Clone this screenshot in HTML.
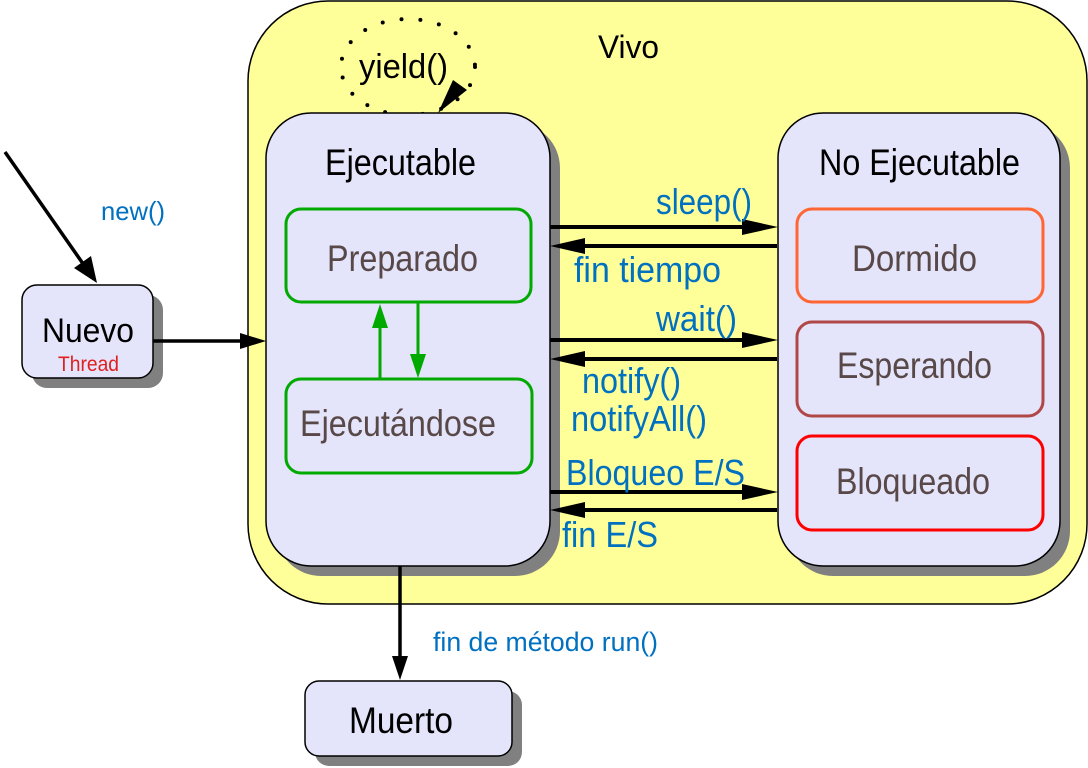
<!DOCTYPE html>
<html><head><meta charset="utf-8"><style>
html,body{margin:0;padding:0;background:#fff;width:1088px;height:768px;overflow:hidden}
svg{display:block}
text{font-family:"Liberation Sans",sans-serif}
</style></head><body>
<svg width="1088" height="768" viewBox="0 0 1088 768" xmlns="http://www.w3.org/2000/svg">
<!-- Vivo -->
<rect x="248" y="1" width="839" height="603" rx="80" fill="#ffff99" stroke="#000" stroke-width="1.5"/>
<text x="598" y="58" font-size="32" textLength="61" lengthAdjust="spacingAndGlyphs" fill="#000">Vivo</text>
<!-- yield dotted ellipse -->
<ellipse cx="408" cy="67" rx="67" ry="48" fill="none" stroke="#000" stroke-width="4" stroke-dasharray="0 19" stroke-linecap="round"/>
<text x="359" y="78" font-size="34" textLength="89" lengthAdjust="spacingAndGlyphs" fill="#000">yield()</text>
<path d="M467,90 L438,113 L453,80 Z" fill="#000"/>
<!-- Ejecutable -->
<rect x="276" y="123" width="284" height="453" rx="45" fill="#808080"/>
<rect x="266" y="113" width="284" height="453" rx="45" fill="#e4e4fa" stroke="#000" stroke-width="1.5"/>
<text x="325" y="175" font-size="37" textLength="151" lengthAdjust="spacingAndGlyphs" fill="#000">Ejecutable</text>
<rect x="286" y="209" width="245" height="93" rx="15" fill="#e4e4fa" stroke="#00aa00" stroke-width="3"/>
<text x="327" y="271" font-size="37" textLength="151" lengthAdjust="spacingAndGlyphs" fill="#584848">Preparado</text>
<rect x="286" y="379" width="246" height="94" rx="15" fill="#e4e4fa" stroke="#00aa00" stroke-width="3"/>
<text x="300" y="436" font-size="37" textLength="196" lengthAdjust="spacingAndGlyphs" fill="#584848">Ejecutándose</text>
<line x1="380" y1="378" x2="380" y2="322" stroke="#00aa00" stroke-width="3"/>
<path d="M372,328 L380,304 L388,328 Z" fill="#00aa00"/>
<line x1="418" y1="303" x2="418" y2="360" stroke="#00aa00" stroke-width="3"/>
<path d="M410,354 L418,378 L426,354 Z" fill="#00aa00"/>
<!-- No Ejecutable -->
<rect x="788" y="123" width="282" height="453" rx="45" fill="#808080"/>
<rect x="778" y="113" width="282" height="453" rx="45" fill="#e4e4fa" stroke="#000" stroke-width="1.5"/>
<text x="819" y="175" font-size="37" textLength="201" lengthAdjust="spacingAndGlyphs" fill="#000">No Ejecutable</text>
<rect x="797" y="209" width="246" height="93" rx="15" fill="#e4e4fa" stroke="#ff6633" stroke-width="3"/>
<text x="852" y="271" font-size="37" textLength="125" lengthAdjust="spacingAndGlyphs" fill="#584848">Dormido</text>
<rect x="797" y="322" width="246" height="94" rx="15" fill="#e4e4fa" stroke="#b04848" stroke-width="3"/>
<text x="837" y="378" font-size="37" textLength="155" lengthAdjust="spacingAndGlyphs" fill="#584848">Esperando</text>
<rect x="797" y="436" width="246" height="94" rx="15" fill="#e4e4fa" stroke="#ff0000" stroke-width="3"/>
<text x="836" y="494" font-size="37" textLength="154" lengthAdjust="spacingAndGlyphs" fill="#584848">Bloqueado</text>
<!-- transitions -->
<g stroke="#000" stroke-width="4" fill="none">
<line x1="550" y1="227" x2="760" y2="227"/>
<line x1="777" y1="246" x2="568" y2="246"/>
<line x1="550" y1="340" x2="760" y2="340"/>
<line x1="777" y1="359" x2="568" y2="359"/>
<line x1="550" y1="492" x2="760" y2="492"/>
<line x1="777" y1="510" x2="568" y2="510"/>
</g>
<g fill="#000">
<path d="M742,219 L778,227 L742,235 Z"/>
<path d="M585,238 L550,246 L585,254 Z"/>
<path d="M742,332 L778,340 L742,348 Z"/>
<path d="M585,351 L550,359 L585,367 Z"/>
<path d="M742,484 L778,492 L742,500 Z"/>
<path d="M585,502 L550,510 L585,518 Z"/>
</g>
<g fill="#0070c0" font-size="36">
<text x="656" y="214" textLength="96" lengthAdjust="spacingAndGlyphs">sleep()</text>
<text x="574" y="282" textLength="147" lengthAdjust="spacingAndGlyphs">fin tiempo</text>
<text x="656" y="331" textLength="81" lengthAdjust="spacingAndGlyphs">wait()</text>
<text x="582" y="393" textLength="99" lengthAdjust="spacingAndGlyphs">notify()</text>
<text x="571" y="431" textLength="136" lengthAdjust="spacingAndGlyphs">notifyAll()</text>
<text x="566" y="485" textLength="179" lengthAdjust="spacingAndGlyphs">Bloqueo E/S</text>
<text x="562" y="547" textLength="96" lengthAdjust="spacingAndGlyphs">fin E/S</text>
</g>
<!-- Nuevo -->
<rect x="32" y="295" width="131" height="93" rx="15" fill="#808080"/>
<rect x="22" y="285" width="131" height="93" rx="15" fill="#e4e4fa" stroke="#000" stroke-width="1.5"/>
<text x="42" y="342" font-size="34" textLength="92" lengthAdjust="spacingAndGlyphs" fill="#000">Nuevo</text>
<text x="58" y="371" font-size="21" textLength="61" lengthAdjust="spacingAndGlyphs" fill="#e02020">Thread</text>
<line x1="5" y1="152" x2="86" y2="268" stroke="#000" stroke-width="3.5"/>
<path d="M74,268 L97,283 L91,256 Z" fill="#000"/>
<text x="101" y="220" font-size="26" textLength="64" lengthAdjust="spacingAndGlyphs" fill="#0070c0">new()</text>
<line x1="153" y1="341" x2="248" y2="341" stroke="#000" stroke-width="3.5"/>
<path d="M240,333 L266,341 L240,349 Z" fill="#000"/>
<!-- Muerto -->
<line x1="400" y1="566" x2="400" y2="660" stroke="#000" stroke-width="3.5"/>
<path d="M392,656 L400,680 L408,656 Z" fill="#000"/>
<text x="433" y="651" font-size="27" textLength="225" lengthAdjust="spacingAndGlyphs" fill="#0070c0">fin de método run()</text>
<rect x="315" y="691" width="207" height="75" rx="14" fill="#808080"/>
<rect x="305" y="681" width="207" height="75" rx="14" fill="#e4e4fa" stroke="#000" stroke-width="1.5"/>
<text x="349" y="733" font-size="37" textLength="104" lengthAdjust="spacingAndGlyphs" fill="#000">Muerto</text>
</svg>
</body></html>
